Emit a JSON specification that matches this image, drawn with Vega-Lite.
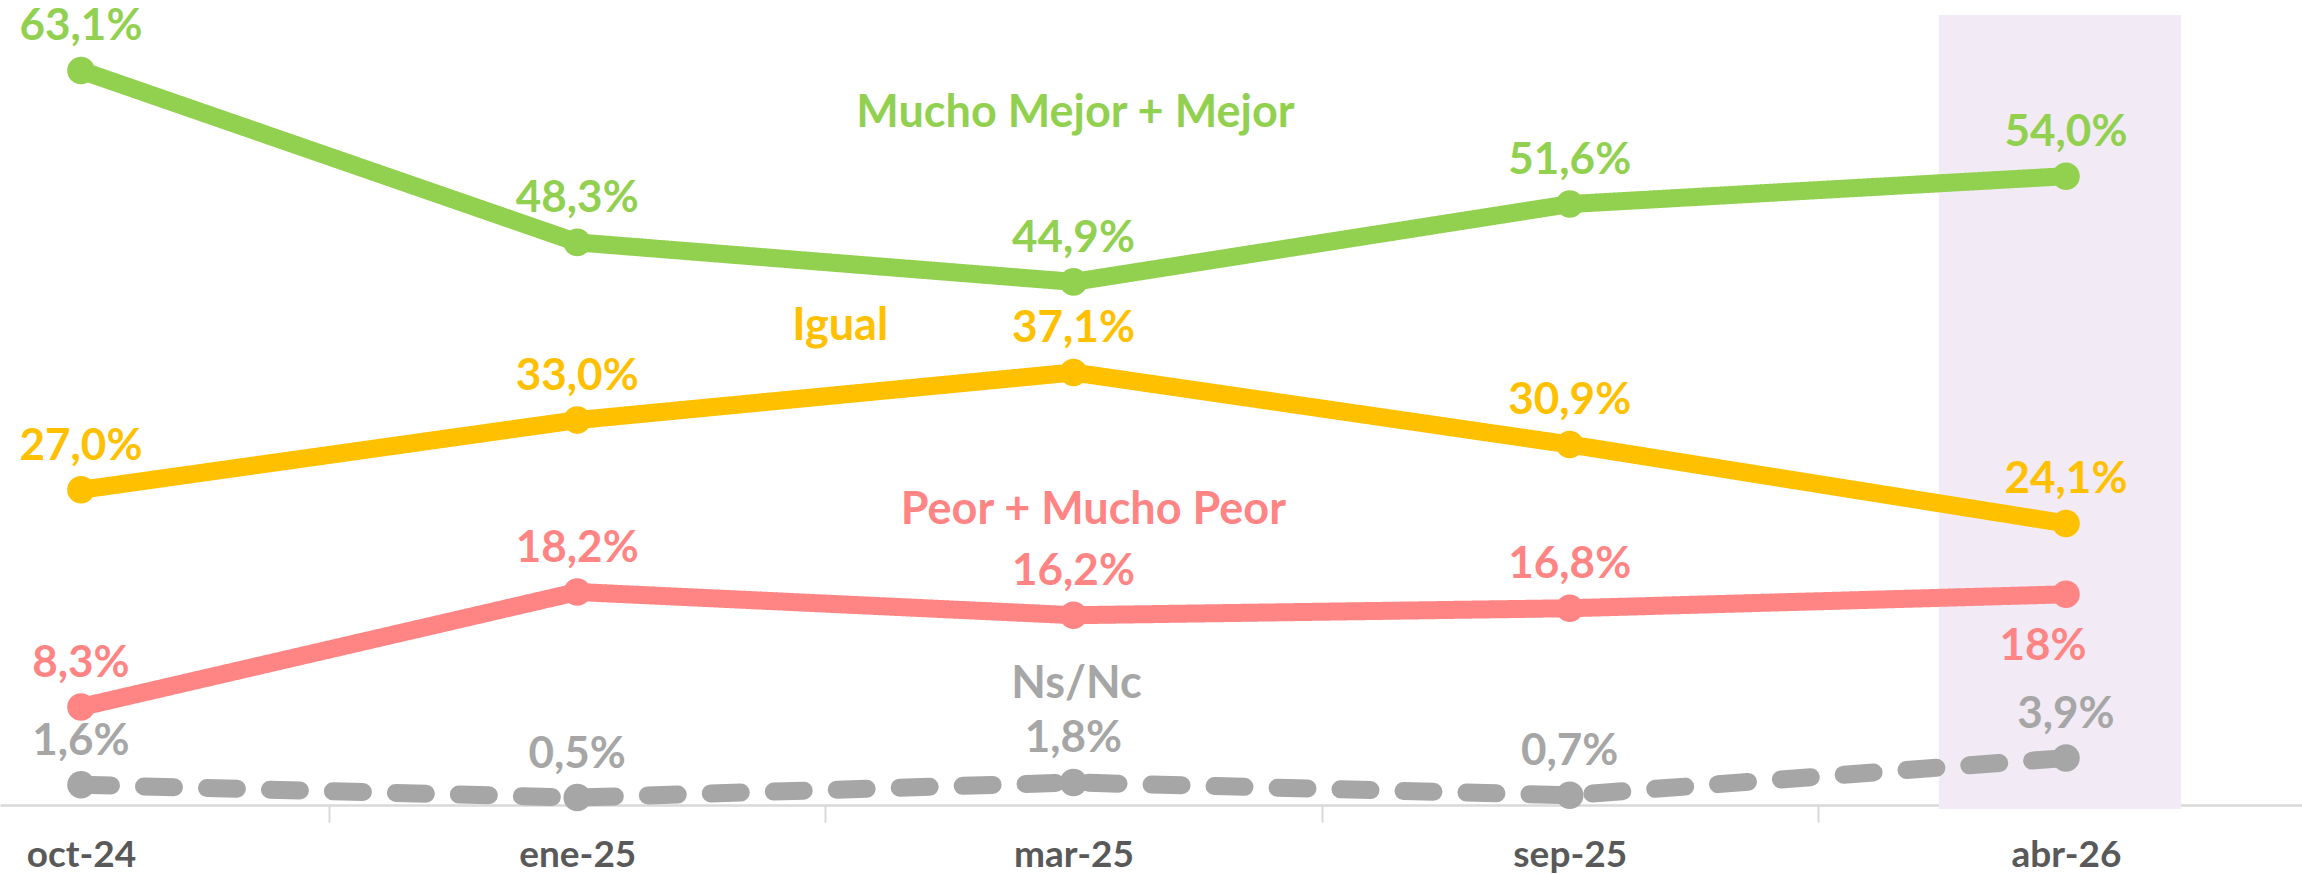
{
  "$schema": "https://vega.github.io/schema/vega-lite/v6.json",
  "width": 2302,
  "height": 805,
  "autosize": {"type": "none"},
  "padding": {"top": 0, "left": 0, "right": 0, "bottom": 69},
  "background": "white",
  "config": {"view": {"stroke": null}, "font": "Lato"},
  "datasets": {
    "series": [
      {"mes": "oct-24", "i": 0, "serie": "Mucho Mejor + Mejor", "valor": 63.1, "etiqueta": "63,1%"},
      {"mes": "ene-25", "i": 1, "serie": "Mucho Mejor + Mejor", "valor": 48.3, "etiqueta": "48,3%"},
      {"mes": "mar-25", "i": 2, "serie": "Mucho Mejor + Mejor", "valor": 44.9, "etiqueta": "44,9%"},
      {"mes": "sep-25", "i": 3, "serie": "Mucho Mejor + Mejor", "valor": 51.6, "etiqueta": "51,6%"},
      {"mes": "abr-26", "i": 4, "serie": "Mucho Mejor + Mejor", "valor": 54.0, "etiqueta": "54,0%"},
      {"mes": "oct-24", "i": 0, "serie": "Igual", "valor": 27.0, "etiqueta": "27,0%"},
      {"mes": "ene-25", "i": 1, "serie": "Igual", "valor": 33.0, "etiqueta": "33,0%"},
      {"mes": "mar-25", "i": 2, "serie": "Igual", "valor": 37.1, "etiqueta": "37,1%"},
      {"mes": "sep-25", "i": 3, "serie": "Igual", "valor": 30.9, "etiqueta": "30,9%"},
      {"mes": "abr-26", "i": 4, "serie": "Igual", "valor": 24.1, "etiqueta": "24,1%"},
      {"mes": "oct-24", "i": 0, "serie": "Peor + Mucho Peor", "valor": 8.3, "etiqueta": "8,3%"},
      {"mes": "ene-25", "i": 1, "serie": "Peor + Mucho Peor", "valor": 18.2, "etiqueta": "18,2%"},
      {"mes": "mar-25", "i": 2, "serie": "Peor + Mucho Peor", "valor": 16.2, "etiqueta": "16,2%"},
      {"mes": "sep-25", "i": 3, "serie": "Peor + Mucho Peor", "valor": 16.8, "etiqueta": "16,8%"},
      {"mes": "abr-26", "i": 4, "serie": "Peor + Mucho Peor", "valor": 18.0, "etiqueta": "18%"},
      {"mes": "oct-24", "i": 0, "serie": "Ns/Nc", "valor": 1.6, "etiqueta": "1,6%"},
      {"mes": "ene-25", "i": 1, "serie": "Ns/Nc", "valor": 0.5, "etiqueta": "0,5%"},
      {"mes": "mar-25", "i": 2, "serie": "Ns/Nc", "valor": 1.8, "etiqueta": "1,8%"},
      {"mes": "sep-25", "i": 3, "serie": "Ns/Nc", "valor": 0.7, "etiqueta": "0,7%"},
      {"mes": "abr-26", "i": 4, "serie": "Ns/Nc", "valor": 3.9, "etiqueta": "3,9%"}
    ],
    "rotulos": [
      {"serie": "Mucho Mejor + Mejor", "x": 2.004, "y": 59.4},
      {"serie": "Igual", "x": 1.53, "y": 41.1},
      {"serie": "Peor + Mucho Peor", "x": 2.04, "y": 25.3},
      {"serie": "Ns/Nc", "x": 2.006, "y": 10.3}
    ],
    "resaltado": [
      {"desde": 3.744, "hasta": 4.232, "base": -0.48, "tope": 67.88}
    ]
  },
  "encoding": {
    "x": {
      "type": "quantitative",
      "scale": {"domain": [-0.1632, 4.4756], "nice": false, "zero": false},
      "axis": {
        "values": [0, 0.5, 1, 1.5, 2, 2.5, 3, 3.5, 4],
        "labelExpr": "datum.value % 1 === 0 ? ['oct-24','ene-25','mar-25','sep-25','abr-26'][datum.value] : ''",
        "title": null, "grid": false,
        "domainColor": "#d9d9d9", "domainWidth": 2.5,
        "tickColor": "#d9d9d9", "tickWidth": 2, "tickSize": 17,
        "tickOpacity": {"condition": {"test": "datum.value % 1 !== 0", "value": 1}, "value": 0},
        "labelFont": "Lato", "labelFontSize": 37, "labelFontWeight": "bold", "labelColor": "#595959",
        "labelPadding": 44, "labelBaseline": "alphabetic",
        "labelOverlap": false, "labelBound": false, "labelFlush": false
      }
    },
    "y": {
      "type": "quantitative",
      "scale": {"domain": [-0.14, 69.17], "nice": false, "zero": false},
      "axis": null
    }
  },
  "layer": [
    {
      "data": {"name": "resaltado"},
      "mark": {"type": "rect", "fill": "#f2eaf4", "clip": false},
      "encoding": {
        "x": {"field": "desde", "type": "quantitative"},
        "x2": {"field": "hasta"},
        "y": {"field": "base", "type": "quantitative"},
        "y2": {"field": "tope"}
      }
    },
    {
      "data": {"name": "series"},
      "mark": {"type": "line", "strokeWidth": 18, "strokeCap": "round", "strokeJoin": "round"},
      "encoding": {
        "x": {"field": "i", "type": "quantitative"},
        "y": {"field": "valor", "type": "quantitative"},
        "color": {
          "field": "serie", "type": "nominal", "legend": null,
          "scale": {"domain": ["Mucho Mejor + Mejor", "Igual", "Peor + Mucho Peor", "Ns/Nc"], "range": ["#92d050", "#ffc000", "#ff8585", "#a6a6a6"]}
        },
        "strokeDash": {
          "field": "serie", "type": "nominal", "legend": null,
          "scale": {"domain": ["Mucho Mejor + Mejor", "Igual", "Peor + Mucho Peor", "Ns/Nc"], "range": [[1, 0], [1, 0], [1, 0], [30, 33]]}
        },
        "order": {"field": "i", "type": "quantitative"}
      }
    },
    {
      "data": {"name": "series"},
      "mark": {"type": "point", "filled": true, "opacity": 1, "size": 760, "shape": "circle"},
      "encoding": {
        "x": {"field": "i", "type": "quantitative"},
        "y": {"field": "valor", "type": "quantitative"},
        "color": {"field": "serie", "type": "nominal", "legend": null}
      }
    },
    {
      "data": {"name": "series"},
      "transform": [{"filter": "!(datum.serie === 'Peor + Mucho Peor' && datum.mes === 'abr-26')"}],
      "mark": {"type": "text", "dy": -43, "fontSize": 44, "fontWeight": "bold", "align": "center", "baseline": "middle"},
      "encoding": {
        "x": {"field": "i", "type": "quantitative"},
        "y": {"field": "valor", "type": "quantitative"},
        "text": {"field": "etiqueta"},
        "color": {"field": "serie", "type": "nominal", "legend": null}
      }
    },
    {
      "data": {"name": "series"},
      "transform": [{"filter": "datum.serie === 'Peor + Mucho Peor' && datum.mes === 'abr-26'"}],
      "mark": {"type": "text", "dy": 53, "dx": -23, "fontSize": 44, "fontWeight": "bold", "align": "center", "baseline": "middle"},
      "encoding": {
        "x": {"field": "i", "type": "quantitative"},
        "y": {"field": "valor", "type": "quantitative"},
        "text": {"field": "etiqueta"},
        "color": {"field": "serie", "type": "nominal", "legend": null}
      }
    },
    {
      "data": {"name": "rotulos"},
      "mark": {"type": "text", "fontSize": 45, "fontWeight": "bold", "align": "center", "baseline": "middle"},
      "encoding": {
        "x": {"field": "x", "type": "quantitative"},
        "y": {"field": "y", "type": "quantitative"},
        "text": {"field": "serie"},
        "color": {"field": "serie", "type": "nominal", "legend": null}
      }
    }
  ]
}
